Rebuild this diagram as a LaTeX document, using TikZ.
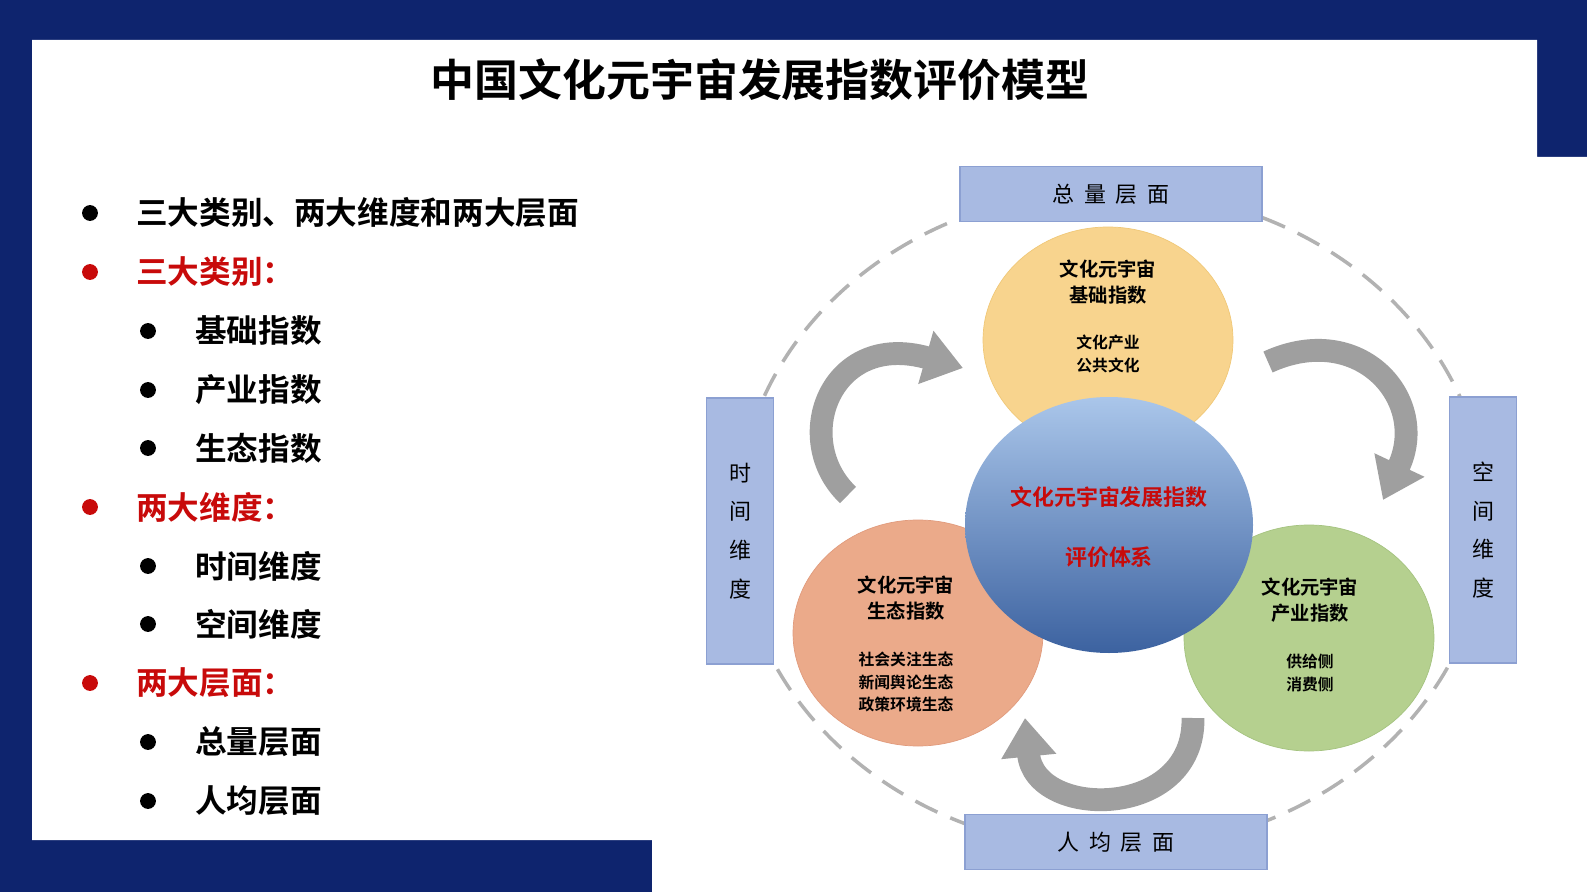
\documentclass[tikz,border=0pt]{standalone}
\usepackage{fontspec}
\setmainfont{Noto Sans CJK SC}
\newfontfamily\cjkb{Noto Sans CJK SC Bold}
\usetikzlibrary{arrows.meta,shapes.geometric}
\definecolor{bgblue}{RGB}{14,36,110}
\definecolor{redt}{RGB}{200,10,10}
\definecolor{boxf}{RGB}{168,186,226}
\definecolor{boxd}{RGB}{140,160,210}
\tikzset{
  bul/.style={anchor=west,font=\cjkb\fontsize{18}{20}\selectfont},
  dot/.style={circle,fill=black,inner sep=0pt,minimum size=9pt},
  rdot/.style={circle,fill=redt,inner sep=0pt,minimum size=9pt},
  lbox/.style={draw=boxd,fill=boxf,line width=1pt,inner sep=0pt},
  ctext/.style={align=center,font=\cjkb\fontsize{11}{15}\selectfont},
  stext/.style={align=center,font=\cjkb\fontsize{9}{13}\selectfont},
  carrow/.style={line width=13pt,draw=gray!75,-{Triangle[length=22pt,width=30pt]}},
}
\begin{document}
\begin{tikzpicture}[x=0.02cm,y=-0.02cm]
\useasboundingbox (0,0) rectangle (1587,892);
\fill[bgblue] (0,0) rectangle (1587,892);
\fill[white] (32,40) -- (1537,40) -- (1537,157) -- (1587,157) -- (1587,892) -- (652,892) -- (652,840) -- (32,840) -- cycle;
\node[font=\cjkb\fontsize{25}{28}\selectfont] (title) at (760,80) {中国文化元宇宙发展指数评价模型};
% left list
\node[dot] (d1) at (90,213) {}; \node[bul] (t1) at (130,213) {三大类别、两大维度和两大层面};
\node[rdot] (d2) at (90,272) {}; \node[bul,text=redt] (t2) at (130,272) {三大类别：};
\node[dot] (d3) at (148,331) {}; \node[bul] (t3) at (189,331) {基础指数};
\node[dot] (d4) at (148,390) {}; \node[bul] (t4) at (189,390) {产业指数};
\node[dot] (d5) at (148,448) {}; \node[bul] (t5) at (189,448) {生态指数};
\node[rdot] (d6) at (90,507) {}; \node[bul,text=redt] (t6) at (130,507) {两大维度：};
\node[dot] (d7) at (148,566) {}; \node[bul] (t7) at (189,566) {时间维度};
\node[dot] (d8) at (148,624) {}; \node[bul] (t8) at (189,624) {空间维度};
\node[rdot] (d9) at (90,683) {}; \node[bul,text=redt] (t9) at (130,683) {两大层面：};
\node[dot] (d10) at (148,742) {}; \node[bul] (t10) at (189,742) {总量层面};
\node[dot] (d11) at (148,801) {}; \node[bul] (t11) at (189,801) {人均层面};
% dashed ellipse
\draw[gray!60,line width=2pt,dash pattern=on 14pt off 8pt] (1112,520) ellipse [x radius=375,y radius=330];
% boxes
\node[lbox,minimum width=302*0.02cm,minimum height=55*0.02cm,font=\fontsize{12.5}{14}\selectfont] (top) at (1111,194) {总\ \ 量\ \ 层\ \ 面};
\node[lbox,minimum width=302*0.02cm,minimum height=55*0.02cm,font=\fontsize{12.5}{14}\selectfont] (bot) at (1116,842) {人\ \ 均\ \ 层\ \ 面};
\node[lbox,minimum width=67*0.02cm,minimum height=266*0.02cm,align=center,font=\fontsize{12.5}{22}\selectfont] (lft) at (740,531) {时\\间\\维\\度};
\node[lbox,minimum width=67*0.02cm,minimum height=266*0.02cm,align=center,font=\fontsize{12.5}{22}\selectfont] (rgt) at (1483,530) {空\\间\\维\\度};
% circles
\node[ellipse,fill={rgb,255:red,248;green,212;blue,142},draw={rgb,255:red,240;green,200;blue,120},minimum width=250*0.02cm,minimum height=226*0.02cm] (yel) at (1108,340) {};
\node[ellipse,fill={rgb,255:red,235;green,170;blue,138},draw={rgb,255:red,225;green,155;blue,125},minimum width=250*0.02cm,minimum height=226*0.02cm] (org) at (918,633) {};
\node[ellipse,fill={rgb,255:red,181;green,208;blue,143},draw={rgb,255:red,165;green,195;blue,128},minimum width=250*0.02cm,minimum height=226*0.02cm] (grn) at (1309,638) {};
\node[ellipse,top color={rgb,255:red,170;green,198;blue,234},bottom color={rgb,255:red,60;green,98;blue,160},minimum width=288*0.02cm,minimum height=256*0.02cm] (blu) at (1109,525) {};
\node[ctext] (yt1) at (1108,282) {文化元宇宙\\基础指数};
\node[stext] (yt2) at (1108,354) {文化产业\\公共文化};
\node[ctext] (ot1) at (906,598) {文化元宇宙\\生态指数};
\node[stext] (ot2) at (906,682) {社会关注生态\\新闻舆论生态\\政策环境生态};
\node[ctext] (gt1) at (1310,600) {文化元宇宙\\产业指数};
\node[stext] (gt2) at (1310,673) {供给侧\\消费侧};
\node[font=\cjkb\fontsize{12.5}{14}\selectfont,text=redt] (bt1) at (1109,497) {文化元宇宙发展指数};
\node[font=\cjkb\fontsize{12.5}{14}\selectfont,text=redt] (bt2) at (1109,557) {评价体系};
% curved arrows
\coordinate (a1s) at (848,495); \coordinate (a1e) at (963,368);
\coordinate (a2s) at (1268,362); \coordinate (a2e) at (1383,500);
\coordinate (a3s) at (1193,718); \coordinate (a3e) at (1025,718);
\draw[carrow] (a1s) .. controls (790,440) and (830,330) .. (a1e);
\draw[carrow] (a2s) .. controls (1360,320) and (1430,400) .. (a2e);
\draw[carrow] (a3s) .. controls (1195,820) and (1035,820) .. (a3e);
\end{tikzpicture}
\end{document}
